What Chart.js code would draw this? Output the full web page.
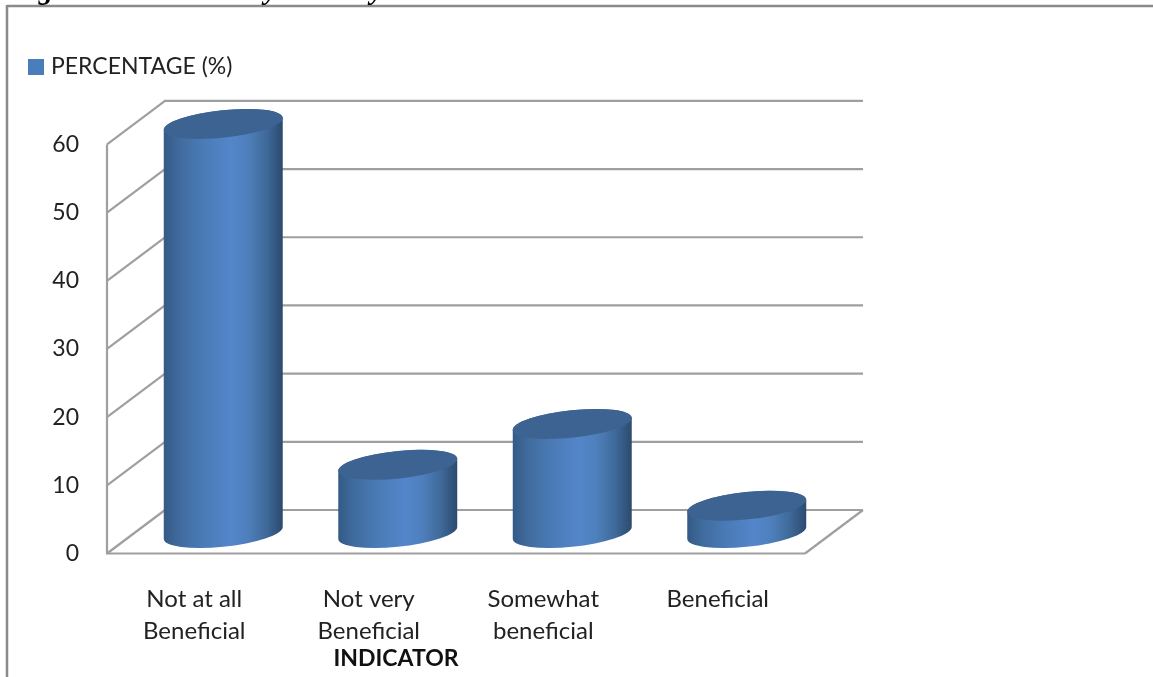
<!DOCTYPE html>
<html>
<head>
<meta charset="utf-8">
<title>Perceived benefit by indicator</title>
<script src="https://cdn.jsdelivr.net/npm/chart.js@4/dist/chart.umd.min.js"></script>
<style>
  html, body { margin: 0; padding: 0; background: #fff; overflow: hidden; }
  #box { position: absolute; left: 0; top: 0; width: 1153px; height: 677px; }
</style>
</head>
<body>
<div id="box"><canvas id="chart" width="1153" height="677"></canvas></div>
<script>
const categories = [["Not at all", "Beneficial"], ["Not very", "Beneficial"], ["Somewhat", "beneficial"], "Beneficial"];
const percentages = [60, 10, 16, 4];
const seriesName = "PERCENTAGE (%)";
const axisTitle = "INDICATOR";
const yTicks = [0, 10, 20, 30, 40, 50, 60];
const captionGlyphs = [["g", 46], ["y", 271], ["y", 377]];

const FONT = "Lato, Carlito, sans-serif";
const WALL = "#9f9f9f";
const SERIES_COLOR = "#4a7ebb";
// Offset of the back wall relative to the front plane, in pixels.
const DEPTH = { x: 58, y: -43.5 };
// Cylinders stand on the floor, this far behind the front edge.
const CYLINDER = { x: 29, y: -20.5 };
const TILT = -6 * Math.PI / 180;

// Legend marker: a plain square with a fixed pixel size.
const swatch = document.createElement("canvas");
swatch.width = 16;
swatch.height = 16;
const swatchCtx = swatch.getContext("2d");
swatchCtx.fillStyle = SERIES_COLOR;
swatchCtx.fillRect(0, 0, 16, 16);

// Bar controller that renders each bar as a tilted cylinder standing on the floor.
class CylinderController extends Chart.BarController {
  draw() {
    const ctx = this.chart.ctx;
    this.getMeta().data.forEach((bar) => {
      const cx = bar.x + CYLINDER.x;
      const baseY = bar.base + CYLINDER.y;
      const topY = bar.y + CYLINDER.y;
      const a = bar.width * 0.5025;
      const b = bar.width * 0.115;
      const half = Math.sqrt(a * a * Math.cos(TILT) ** 2 + b * b * Math.sin(TILT) ** 2);
      const t0 = Math.atan2(-b * Math.sin(TILT), a * Math.cos(TILT));

      const shade = ctx.createLinearGradient(cx - half, 0, cx + half, 0);
      shade.addColorStop(0, "#345a85");
      shade.addColorStop(0.12, "#3f6a9c");
      shade.addColorStop(0.32, "#4a7ab5");
      shade.addColorStop(0.56, "#5386ca");
      shade.addColorStop(0.7, "#4f80bd");
      shade.addColorStop(0.86, "#3f6a9a");
      shade.addColorStop(1, "#2c4a6e");

      ctx.save();
      ctx.beginPath();
      ctx.ellipse(cx, baseY, a, b, TILT, t0, t0 + Math.PI, false);
      ctx.ellipse(cx, topY, a, b, TILT, t0 + Math.PI, t0 + 2 * Math.PI, false);
      ctx.closePath();
      ctx.fillStyle = shade;
      ctx.fill();

      ctx.beginPath();
      ctx.ellipse(cx, topY, a, b, TILT, 0, 2 * Math.PI);
      ctx.fillStyle = "#3c6391";
      ctx.fill();
      ctx.restore();
    });
  }
}
CylinderController.id = "cylinder";
CylinderController.defaults = Chart.BarController.defaults;
Chart.register(CylinderController);

const line = (ctx, x1, y1, x2, y2) => {
  ctx.beginPath();
  ctx.moveTo(x1, y1);
  ctx.lineTo(x2, y2);
  ctx.stroke();
};

// Page frame, clipped caption descenders, side wall, back wall and floor.
const perspectiveWalls = {
  id: "perspectiveWalls",
  beforeDatasetsDraw(chart) {
    const { ctx, chartArea: area, scales: { y } } = chart;
    ctx.save();

    ctx.strokeStyle = "#8a8a8a";
    ctx.lineWidth = 2.5;
    line(ctx, 7, 6, 1153, 6);
    line(ctx, 7, 5, 7, 677);

    ctx.font = "italic bold 29px 'Liberation Serif', serif";
    ctx.fillStyle = "#000";
    ctx.textAlign = "center";
    ctx.textBaseline = "alphabetic";
    ctx.save();
    ctx.beginPath();
    ctx.rect(0, 0, 1153, 5);
    ctx.clip();
    captionGlyphs.forEach(([glyph, x]) => ctx.fillText(glyph, x, -1));
    ctx.restore();

    ctx.strokeStyle = WALL;
    ctx.lineWidth = 2.2;
    yTicks.forEach((value) => {
      const py = y.getPixelForValue(value);
      line(ctx, area.left, py, area.left + DEPTH.x, py + DEPTH.y);
      line(ctx, area.left + DEPTH.x - 1, py + DEPTH.y, area.right + DEPTH.x, py + DEPTH.y);
    });
    const floorY = y.getPixelForValue(0);
    line(ctx, area.left, y.getPixelForValue(60), area.left, floorY);
    line(ctx, area.left - 1, floorY, area.right, floorY);
    line(ctx, area.right, floorY, area.right + DEPTH.x, floorY + DEPTH.y);
    ctx.restore();
  },
  afterDraw(chart) {
    const { ctx } = chart;
    ctx.save();
    ctx.font = "bold 23px " + FONT;
    ctx.fillStyle = "#111";
    ctx.textAlign = "center";
    ctx.textBaseline = "middle";
    ctx.fillText(axisTitle, 396, 659);
    ctx.restore();
  }
};

new Chart(document.getElementById("chart"), {
  type: "cylinder",
  data: {
    labels: categories,
    datasets: [{
      label: seriesName,
      data: percentages,
      backgroundColor: SERIES_COLOR,
      borderWidth: 0,
      barPercentage: 0.682,
      categoryPercentage: 1,
      clip: false
    }]
  },
  plugins: [perspectiveWalls],
  options: {
    responsive: false,
    animation: false,
    events: [],
    layout: { padding: { left: 18, top: 41, right: 348, bottom: 0 } },
    plugins: {
      tooltip: { enabled: false },
      // Empty title acts as a spacer between the legend and the plot.
      title: { display: true, text: "", weight: 500, padding: { top: 0, bottom: 29.5 }, font: { size: 22, lineHeight: 1.2 } },
      legend: {
        position: "top",
        align: "start",
        labels: {
          usePointStyle: true,
          pointStyle: swatch,
          pointStyleWidth: 7,
          boxHeight: 16,
          padding: 14.5,
          color: "#222",
          font: { family: FONT, size: 23 }
        }
      }
    },
    scales: {
      x: {
        afterFit(scale) { scale.height = 123.5; },
        grid: { display: false },
        border: { display: false },
        ticks: { color: "#222", padding: 22, maxRotation: 0, autoSkip: false, font: { family: FONT, size: 24, lineHeight: 1.33 } }
      },
      y: {
        min: 0,
        max: 60,
        afterFit(scale) { scale.width = 89; },
        afterBuildTicks(scale) { scale.ticks = yTicks.map((value) => ({ value })); },
        grid: { display: false },
        border: { display: false },
        ticks: { color: "#222", padding: 20, font: { family: FONT, size: 23 } }
      }
    }
  }
});
</script>
</body>
</html>
